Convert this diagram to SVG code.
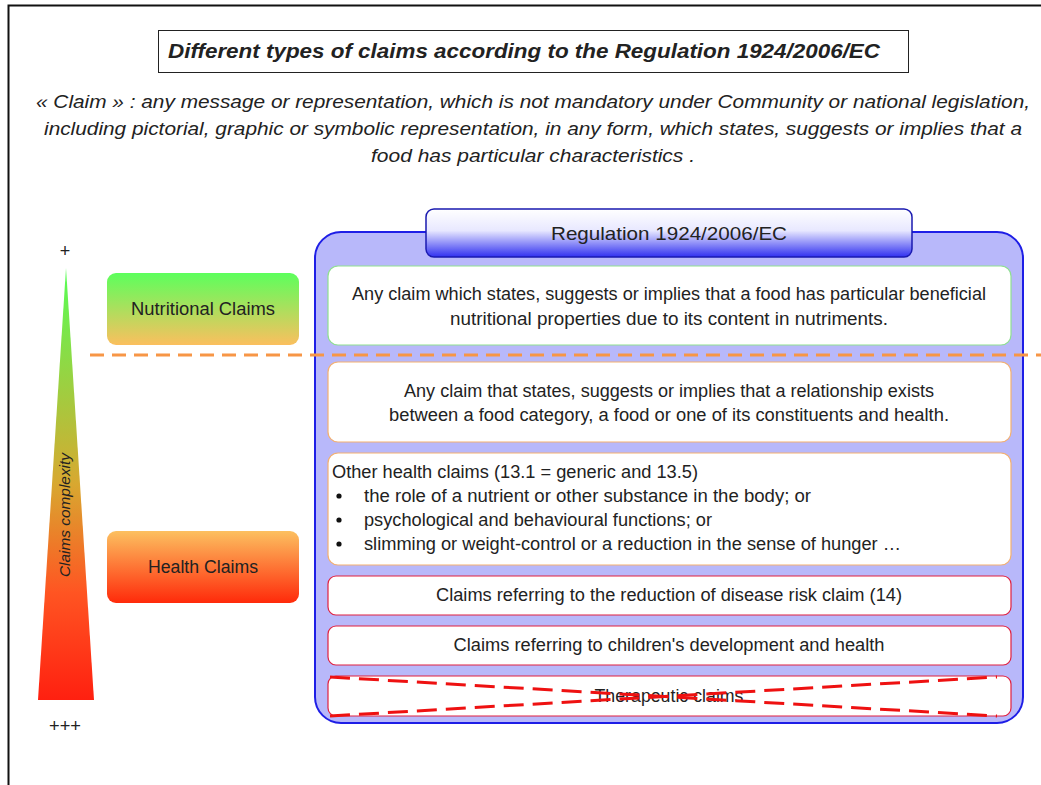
<svg xmlns="http://www.w3.org/2000/svg" width="1041" height="785" viewBox="0 0 1041 785">
<style>
text{font-family:"Liberation Sans",Arial,sans-serif;fill:#222}
.def{font-style:italic;font-size:19px;fill:#444}
.box{fill:#fff;stroke-width:1.2}
.t16{font-size:17.5px;fill:#222}
.mid{text-anchor:middle}
</style>
<defs>
<linearGradient id="tri" x1="0" y1="0" x2="0" y2="1">
<stop offset="0" stop-color="#55ff55"/><stop offset="0.5" stop-color="#d8a830"/><stop offset="0.75" stop-color="#ff5522"/><stop offset="1" stop-color="#ff2010"/>
</linearGradient>
<linearGradient id="nut" x1="0" y1="0" x2="0" y2="1">
<stop offset="0" stop-color="#5cff5c"/><stop offset="1" stop-color="#fbbf5e"/>
</linearGradient>
<linearGradient id="hea" x1="0" y1="0" x2="0" y2="1">
<stop offset="0" stop-color="#fcc060"/><stop offset="1" stop-color="#ff2a0a"/>
</linearGradient>
<linearGradient id="hdr" x1="0" y1="0" x2="0" y2="1">
<stop offset="0" stop-color="#ffffff"/><stop offset="0.45" stop-color="#e8e8ff"/><stop offset="1" stop-color="#3030f0"/>
</linearGradient>
</defs>
<rect width="1041" height="785" fill="#fff"/>
<path d="M8.5 785V5.5H1041" fill="none" stroke="#111" stroke-width="2"/>
<g id="title">
<rect x="158.5" y="30.5" width="750" height="42" fill="#fff" stroke="#222" stroke-width="1"/>
<text x="524" y="58" class="mid" style="font-weight:bold;font-style:italic;font-size:21px" textLength="712" lengthAdjust="spacingAndGlyphs">Different types of claims according to the Regulation 1924/2006/EC</text>
</g>
<g id="definition" class="def">
<text x="533" y="108" class="mid" textLength="994" lengthAdjust="spacingAndGlyphs">« Claim » : any message or representation,  which is not mandatory under Community or national legislation,</text>
<text x="533" y="135" class="mid" textLength="978" lengthAdjust="spacingAndGlyphs">including pictorial, graphic or symbolic representation, in any form, which states, suggests or implies that a</text>
<text x="533" y="162" class="mid" textLength="324" lengthAdjust="spacingAndGlyphs">food has particular characteristics .</text>
</g>
<g id="complexity">
<polygon points="66,268 94,700 38,700" fill="url(#tri)"/>
<text x="65" y="257" class="mid" style="font-size:18px">+</text>
<text x="65" y="732" class="mid" style="font-size:18px" textLength="32" lengthAdjust="spacingAndGlyphs">+++</text>
<text transform="translate(70,515) rotate(-90)" class="mid" style="font-style:italic;font-size:14px" textLength="124" lengthAdjust="spacingAndGlyphs">Claims complexity</text>
</g>
<g id="nutritional-claims">
<rect x="107" y="273" width="192" height="72" rx="9" fill="url(#nut)"/>
<text x="203" y="315" class="mid t16" textLength="144" lengthAdjust="spacingAndGlyphs">Nutritional Claims</text>
</g>
<g id="health-claims">
<rect x="107" y="531" width="192" height="72" rx="9" fill="url(#hea)"/>
<text x="203" y="573" class="mid t16" textLength="110" lengthAdjust="spacingAndGlyphs">Health Claims</text>
</g>
<g id="regulation">
<rect x="315" y="232" width="708" height="491" rx="26" fill="#b8b8fa" stroke="#1e1ee6" stroke-width="2"/>
<rect x="426" y="209" width="486" height="48" rx="8" fill="url(#hdr)" stroke="#1a1ab0" stroke-width="1.5"/>
<text x="669" y="240" class="mid" style="font-size:19px" textLength="236" lengthAdjust="spacingAndGlyphs">Regulation 1924/2006/EC</text>
</g>
<g id="box-nutritional">
<rect x="328" y="266" width="683" height="79" rx="10" class="box" stroke="#8fe08f"/>
<text x="669" y="300" class="mid t16" textLength="634" lengthAdjust="spacingAndGlyphs">Any claim which states, suggests or implies that a food has particular beneficial</text>
<text x="669" y="325" class="mid t16" textLength="438" lengthAdjust="spacingAndGlyphs">nutritional properties due to its content in nutriments.</text>
</g>
<g id="box-health">
<rect x="328" y="362" width="683" height="80" rx="10" class="box" stroke="#f4b070"/>
<text x="669" y="397" class="mid t16" textLength="530" lengthAdjust="spacingAndGlyphs">Any claim that states, suggests or implies that a relationship exists</text>
<text x="669" y="421" class="mid t16" textLength="560" lengthAdjust="spacingAndGlyphs">between a food category, a food or one of its constituents and health.</text>
</g>
<g id="box-other">
<rect x="328" y="453" width="683" height="112" rx="10" class="box" stroke="#f4b070"/>
<text x="332" y="478" class="t16" textLength="366" lengthAdjust="spacingAndGlyphs">Other health claims (13.1 = generic and 13.5)</text>
<circle cx="339" cy="496" r="2.6" fill="#111"/>
<circle cx="339" cy="520" r="2.6" fill="#111"/>
<circle cx="339" cy="544" r="2.6" fill="#111"/>
<text x="364" y="502" class="t16" textLength="447" lengthAdjust="spacingAndGlyphs">the role of a nutrient or other substance in the body; or</text>
<text x="364" y="526" class="t16" textLength="348" lengthAdjust="spacingAndGlyphs">psychological and behavioural functions; or</text>
<text x="364" y="550" class="t16" textLength="537" lengthAdjust="spacingAndGlyphs">slimming or weight-control or a reduction in the sense of hunger …</text>
</g>
<g id="box-disease">
<rect x="328" y="576" width="683" height="39" rx="8" class="box" stroke="#e02040"/>
<text x="669" y="601" class="mid t16" textLength="466" lengthAdjust="spacingAndGlyphs">Claims referring to the reduction of disease  risk claim (14)</text>
</g>
<g id="box-children">
<rect x="328" y="626" width="683" height="39" rx="8" class="box" stroke="#e02040"/>
<text x="669" y="651" class="mid t16" textLength="431" lengthAdjust="spacingAndGlyphs">Claims referring to children's development and health</text>
</g>
<g id="box-therapeutic">
<rect x="328" y="676" width="683" height="40" rx="8" class="box" stroke="#e02040"/>
<text x="669" y="702" class="mid t16" textLength="149" lengthAdjust="spacingAndGlyphs">Therapeutic claims</text>
</g>
<g id="connectors" fill="none">
<line x1="90" y1="355" x2="1041" y2="355" stroke="#f79646" stroke-width="3" stroke-dasharray="14 8"/>
<line x1="330" y1="677" x2="997" y2="716" stroke="#ee1111" stroke-width="3" stroke-dasharray="20 9"/>
<line x1="330" y1="716" x2="997" y2="677" stroke="#ee1111" stroke-width="3" stroke-dasharray="20 9"/>
</g>
</svg>
